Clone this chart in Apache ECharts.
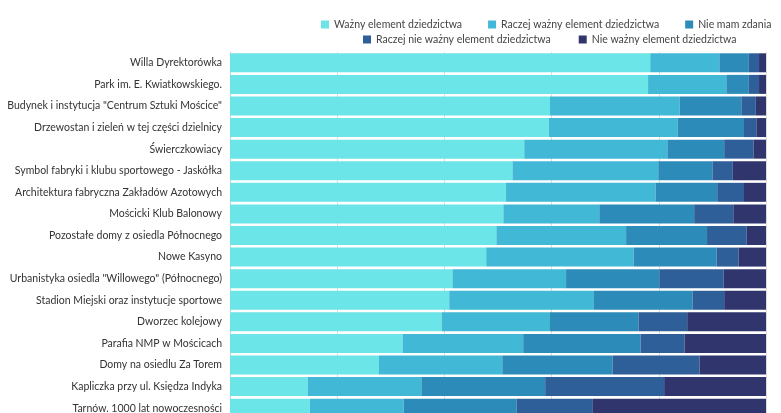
<!DOCTYPE html>
<html>
<head>
<meta charset="utf-8">
<script src="https://cdn.jsdelivr.net/npm/echarts@6/dist/echarts.min.js"></script>
<style>
  html, body { margin: 0; padding: 0; background: #fff; }
  #chart { width: 781px; height: 413px; }
</style>
</head>
<body>
<div id="chart"></div>
<script>
const categories = [
  "Willa Dyrektorówka",
  "Park im. E. Kwiatkowskiego.",
  "Budynek i instytucja \"Centrum Sztuki Mościce\"",
  "Drzewostan i zieleń w tej części dzielnicy",
  "Świerczkowiacy",
  "Symbol fabryki i klubu sportowego - Jaskółka",
  "Architektura fabryczna Zakładów Azotowych",
  "Mościcki Klub Balonowy",
  "Pozostałe domy z osiedla Północnego",
  "Nowe Kasyno",
  "Urbanistyka osiedla \"Willowego\" (Północnego)",
  "Stadion Miejski oraz instytucje sportowe",
  "Dworzec kolejowy",
  "Parafia NMP w Mościcach",
  "Domy na osiedlu Za Torem",
  "Kapliczka przy ul. Księdza Indyka",
  "Tarnów. 1000 lat nowoczesności"
];

const seriesNames = [
  "Ważny element dziedzictwa",
  "Raczej ważny element dziedzictwa",
  "Nie mam zdania",
  "Raczej nie ważny element dziedzictwa",
  "Nie ważny element dziedzictwa"
];

// procenty
const wazny       = [78.4, 78.0, 59.7, 59.5, 54.9, 52.7, 51.5, 51.0, 49.7, 47.8, 41.5, 40.9, 39.5, 32.2, 27.8, 14.5, 14.9];
const raczejWazny = [12.9, 14.6, 24.2, 24.0, 26.7, 27.2, 27.9, 17.9, 24.2, 27.5, 21.2, 27.0, 20.2, 22.5, 23.0, 21.2, 17.5];
const nieMam      = [5.5, 4.2, 11.5, 12.4, 10.6, 10.1, 11.5, 17.7, 15.1, 15.5, 17.4, 18.4, 16.5, 21.9, 20.6, 23.1, 21.1];
const raczejNie   = [1.9, 1.9, 2.7, 2.3, 5.5, 3.8, 5.0, 7.3, 7.4, 4.1, 12.0, 5.9, 9.1, 8.2, 16.2, 22.2, 14.2];
const nieWazny    = [1.3, 1.3, 1.9, 1.8, 2.3, 6.2, 4.1, 6.1, 3.6, 5.1, 7.9, 7.8, 14.7, 15.2, 12.4, 19.0, 32.3];

const colors = ["#6ce5e8", "#41b8d5", "#2d8bba", "#2f5f98", "#31356e"];
const values = [wazny, raczejWazny, nieMam, raczejNie, nieWazny];

const chart = echarts.init(document.getElementById("chart"));

const legendText = { fontFamily: "Lato", fontSize: 10.5, color: "#444" };

const option = {
  animation: false,
  color: colors,
  textStyle: { fontFamily: "Lato" },
  legend: [
    {
      data: seriesNames.slice(0, 3),
      left: 316,
      top: 14,
      width: 465,
      icon: "rect",
      itemWidth: 8,
      itemHeight: 8,
      itemGap: 26,
      textStyle: legendText
    },
    {
      data: seriesNames.slice(3),
      left: 358,
      top: 29,
      width: 420,
      icon: "rect",
      itemWidth: 8,
      itemHeight: 8,
      itemGap: 28,
      textStyle: legendText
    }
  ],
  grid: {
    left: 230,
    right: 15,
    top: 52,
    bottom: -6,
    outerBoundsMode: "none",
    containLabel: false
  },
  xAxis: {
    type: "value",
    min: 0,
    max: 100,
    interval: 20,
    axisLabel: { show: false },
    axisLine: { show: false },
    axisTick: { show: false },
    splitLine: { lineStyle: { color: "#dcdcdc" } }
  },
  yAxis: {
    type: "category",
    data: categories,
    inverse: true,
    axisTick: { show: false },
    axisLine: { show: true, lineStyle: { color: "#cfcfcf" } },
    axisLabel: { color: "#333", fontSize: 10.5, margin: 8, fontFamily: "Lato" }
  },
  series: seriesNames.map((name, i) => ({
    name: name,
    type: "bar",
    stack: "total",
    barCategoryGap: "12%",
    data: values[i]
  }))
};

chart.setOption(option);
</script>
</body>
</html>
